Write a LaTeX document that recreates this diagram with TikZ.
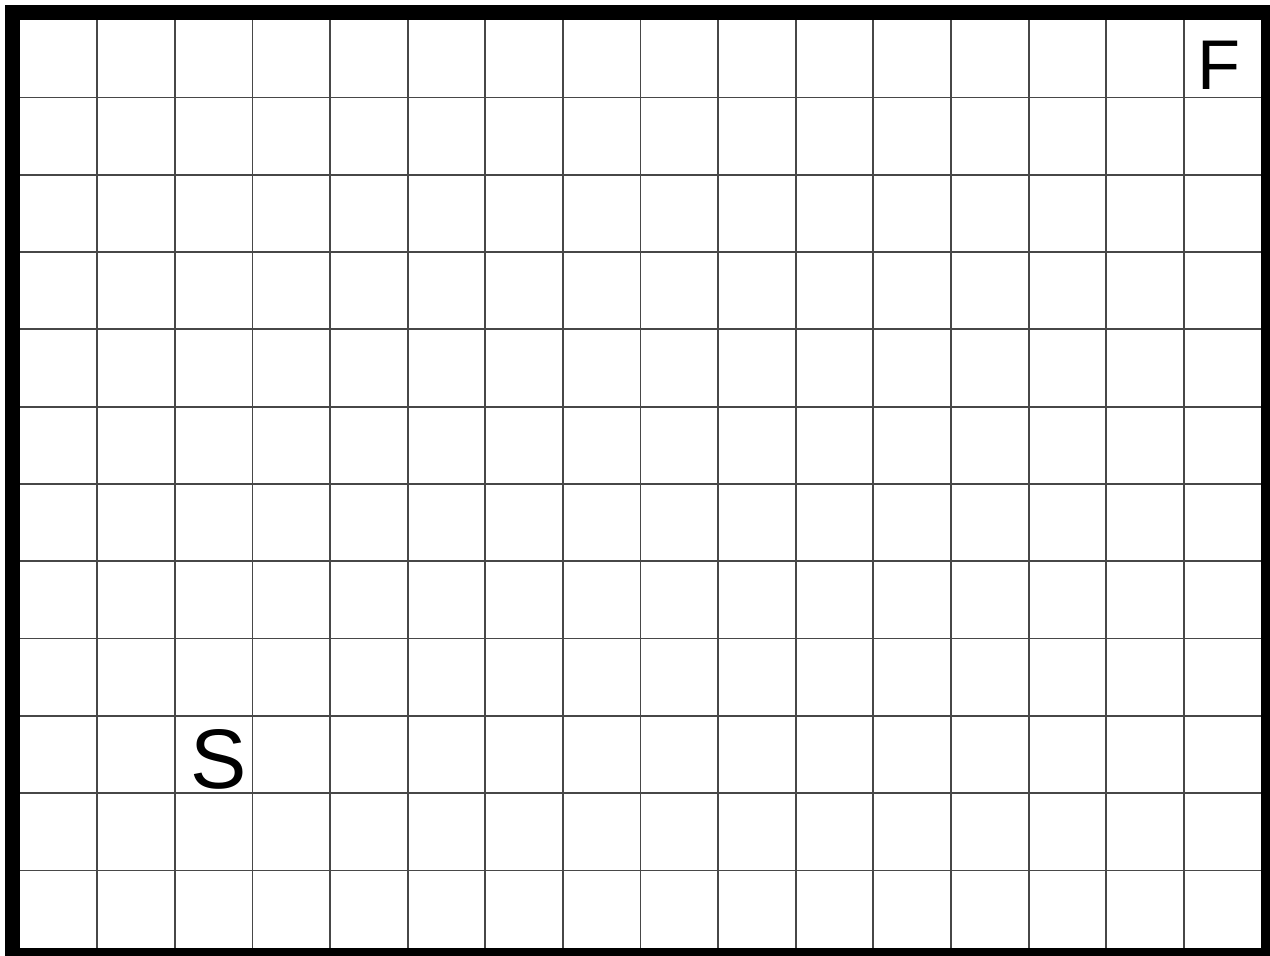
\documentclass[tikz,border=0pt]{standalone}
\usepackage{fontspec}
\setmainfont{Liberation Sans}
\begin{document}
\begin{tikzpicture}[x=1pt,y=-1pt,
  gridline/.style={line width=1.8pt, draw=black!72},
  frame/.style={line width=15pt, draw=black},
  letter/.style={font=\fontsize{84}{84}\selectfont, inner sep=0pt}]
\useasboundingbox (0,0) rectangle (1263,950);
\clip (0,0) rectangle (1263,950);
\fill[white] (0,0) rectangle (1263,950);
\foreach \i in {1,...,15} \draw[gridline] ({19.5+77.1875*\i},20) -- ({19.5+77.1875*\i},942.5);
\foreach \j in {1,...,11} \draw[gridline] (19.5,{20+76.875*\j}) -- (1254.5,{20+76.875*\j});
\draw[frame] (12,12.5) rectangle (1262,950);
\node[letter] (S) at (217,755) {S};
\node[letter, font=\fontsize{70}{70}\selectfont] (F) at (1212,65) {F};
\end{tikzpicture}
\end{document}
